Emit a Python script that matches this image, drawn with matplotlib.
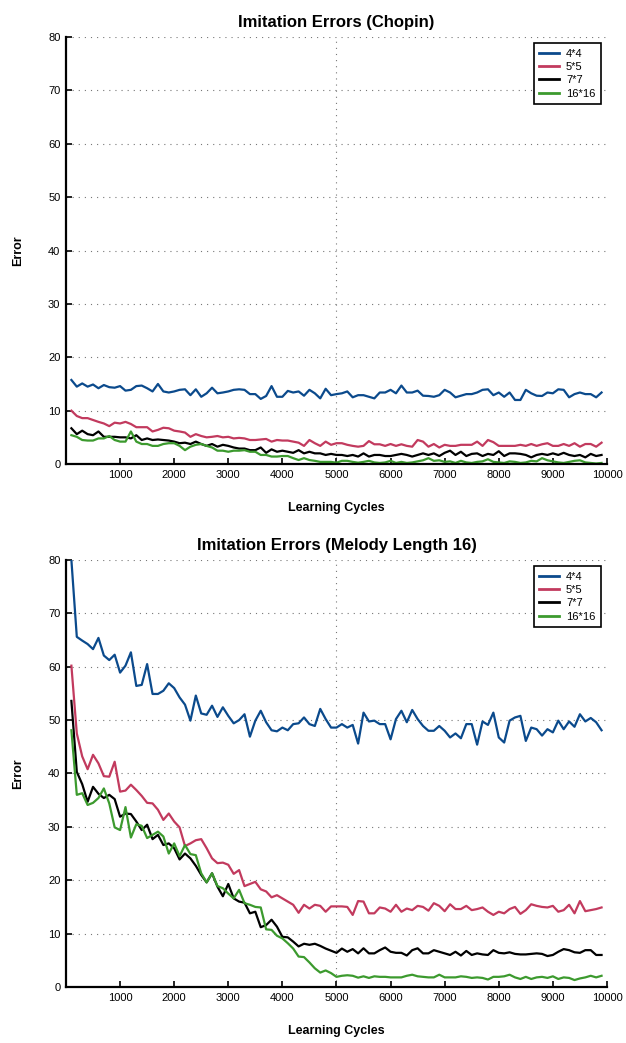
import numpy as np
import matplotlib.pyplot as plt

plt.rcParams['font.family'] = ['Liberation Sans', 'DejaVu Sans']

# learning cycles: one sample every 100 cycles
cycles = np.arange(100, 10000, 100)
labels = ['4*4', '5*5', '7*7', '16*16']
colors = ['#0b4a8c', '#c23a5e', '#000000', '#3c9a2e']

# --- Chopin ---
chopin_4 = [15.75, 14.5, 15.1, 14.5, 14.9, 14.2, 14.8, 14.4, 14.3, 14.6,
            13.75, 13.9, 14.6, 14.7, 14.2, 13.6, 15.0, 13.6, 13.4, 13.6,
            13.9, 14.0, 12.9, 14.0, 12.6, 13.25, 14.3, 13.25, 13.4, 13.6,
            13.9, 14.0, 13.9, 13.1, 13.1, 12.2, 12.75, 14.6, 12.6, 12.6,
            13.7, 13.4, 13.6, 12.8, 13.9, 13.25, 12.3, 14.1, 12.9, 13.1,
            13.25, 13.6, 12.5, 12.9, 12.9, 12.6, 12.3, 13.4, 13.4, 13.9,
            13.25, 14.7, 13.4, 13.4, 13.75, 12.8, 12.75, 12.6, 12.9, 13.9,
            13.4, 12.5, 12.8, 13.1, 13.1, 13.4, 13.9, 14.0, 12.9, 13.4,
            12.6, 13.4, 12.0, 12.0, 13.9, 13.25, 12.8, 12.75, 13.4, 13.25,
            14.0, 13.9, 12.5, 13.1, 13.4, 13.1, 13.1, 12.5, 13.4]
chopin_5 = [10.0, 9.0, 8.6, 8.6, 8.25, 7.9, 7.6, 7.1, 7.75, 7.6,
            7.9, 7.5, 6.9, 6.9, 6.9, 6.1, 6.4, 6.8, 6.7, 6.25,
            6.1, 5.9, 5.1, 5.6, 5.25, 5.0, 5.1, 5.25, 5.0, 5.1,
            4.8, 4.9, 4.8, 4.5, 4.5, 4.6, 4.7, 4.2, 4.5, 4.4,
            4.4, 4.2, 4.0, 3.4, 4.5, 3.9, 3.4, 4.2, 3.6, 3.9,
            3.9, 3.6, 3.4, 3.25, 3.4, 4.3, 3.7, 3.7, 3.4, 3.75,
            3.4, 3.7, 3.4, 3.25, 4.5, 4.2, 3.25, 3.75, 3.1, 3.6,
            3.4, 3.4, 3.6, 3.6, 3.6, 4.2, 3.4, 4.5, 4.1, 3.4,
            3.4, 3.4, 3.4, 3.6, 3.4, 3.75, 3.4, 3.7, 3.9, 3.4,
            3.4, 3.75, 3.4, 3.9, 3.25, 3.75, 3.75, 3.25, 4.0]
chopin_7 = [6.7, 5.6, 6.25, 5.6, 5.4, 6.1, 5.1, 5.1, 5.1, 5.0,
            5.0, 4.8, 5.4, 4.5, 4.8, 4.5, 4.6, 4.5, 4.4, 4.2,
            3.9, 4.0, 3.75, 4.2, 3.75, 3.4, 3.75, 3.25, 3.6, 3.4,
            3.1, 2.9, 2.9, 2.6, 2.6, 3.1, 2.1, 2.75, 2.3, 2.5,
            2.3, 2.1, 2.6, 2.0, 2.3, 2.0, 2.0, 1.7, 1.9, 1.7,
            1.7, 1.5, 1.7, 1.4, 2.0, 1.4, 1.7, 1.7, 1.5, 1.5,
            1.7, 1.9, 1.7, 1.4, 1.7, 2.0, 1.7, 2.0, 1.5, 2.1,
            2.5, 1.7, 2.3, 1.5, 1.9, 2.0, 1.5, 1.9, 1.7, 2.4,
            1.5, 2.0, 2.0, 1.9, 1.7, 1.25, 1.7, 1.9, 1.7, 2.0,
            1.7, 2.1, 1.7, 1.5, 1.7, 1.25, 1.9, 1.5, 1.7]
chopin_16 = [5.4, 5.1, 4.5, 4.4, 4.4, 4.8, 4.8, 5.25, 4.5, 4.2,
             4.2, 6.1, 4.2, 3.75, 3.75, 3.4, 3.4, 3.75, 3.9, 3.9,
             3.4, 2.6, 3.25, 3.6, 3.75, 3.4, 3.1, 2.5, 2.5, 2.3,
             2.5, 2.5, 2.6, 2.3, 2.3, 1.7, 1.7, 1.4, 1.4, 1.5,
             1.5, 1.1, 0.75, 1.1, 0.75, 0.6, 0.4, 0.4, 0.4, 0.25,
             0.6, 0.6, 0.4, 0.25, 0.4, 0.6, 0.3, 0.2, 0.3, 0.6,
             0.2, 0.4, 0.2, 0.3, 0.5, 0.7, 1.1, 0.6, 0.7, 0.4,
             0.5, 0.2, 0.6, 0.3, 0.2, 0.4, 0.5, 0.9, 0.4, 0.3,
             0.2, 0.5, 0.4, 0.2, 0.3, 0.6, 0.5, 1.1, 0.7, 0.5,
             0.3, 0.2, 0.4, 0.6, 0.7, 0.3, 0.2, 0.1, 0.2]

# --- Melody length 16 ---
melody_4 = [80.0, 65.6, 64.9, 64.25, 63.3, 65.4, 62.1, 61.25, 62.25, 58.9,
            60.2, 62.7, 56.4, 56.6, 60.5, 54.9, 54.9, 55.5, 56.9, 56.0,
            54.25, 52.9, 49.9, 54.6, 51.25, 51.0, 52.7, 50.6, 52.4, 50.8,
            49.4, 50.0, 51.1, 46.9, 49.9, 51.75, 49.6, 48.1, 47.9, 48.6,
            48.1, 49.25, 49.4, 50.5, 49.25, 48.9, 52.1, 50.2, 48.6, 48.6,
            49.25, 48.6, 49.1, 45.6, 51.4, 49.75, 49.9, 49.25, 49.25, 46.4,
            50.2, 51.75, 49.6, 51.9, 50.2, 48.9, 48.0, 48.0, 48.9, 48.0,
            46.75, 47.5, 46.6, 49.25, 49.25, 45.4, 49.75, 49.1, 51.4, 46.75,
            45.8, 49.9, 50.5, 50.8, 46.1, 48.6, 48.3, 47.1, 48.3, 47.7,
            49.9, 48.3, 49.75, 48.75, 51.1, 49.75, 50.4, 49.6, 48.1]
melody_5 = [60.2, 47.5, 43.2, 40.8, 43.5, 41.9, 39.5, 39.4, 42.2, 36.6,
            36.8, 37.9, 36.9, 35.8, 34.5, 34.4, 33.2, 31.3, 32.5, 31.0,
            29.9, 26.4, 26.9, 27.5, 27.7, 26.0, 24.1, 23.2, 23.3, 22.9,
            21.2, 21.9, 18.9, 19.3, 19.7, 18.3, 17.9, 16.8, 17.2, 16.6,
            16.0, 15.4, 13.9, 15.4, 14.7, 15.4, 15.2, 14.1, 15.1, 15.1,
            15.1, 15.0, 13.5, 16.1, 16.0, 13.8, 13.8, 14.9, 14.7, 14.1,
            15.4, 14.1, 14.7, 14.4, 15.2, 15.0, 14.3, 15.7, 15.2, 14.2,
            15.5, 14.6, 14.6, 15.2, 14.4, 14.6, 14.9, 14.1, 13.5, 14.1,
            13.8, 14.6, 15.0, 13.7, 14.4, 15.5, 15.2, 15.0, 14.9, 15.2,
            14.1, 14.4, 15.4, 13.8, 16.1, 14.2, 14.4, 14.6, 14.9]
melody_7 = [53.6, 40.3, 38.0, 34.7, 37.5, 36.2, 35.4, 36.0, 35.2, 31.9,
            32.5, 32.4, 31.0, 29.4, 30.4, 27.7, 28.5, 26.6, 26.9, 26.0,
            23.9, 25.0, 24.1, 22.7, 21.0, 19.6, 21.3, 18.8, 17.0, 19.3,
            16.6, 16.0, 15.8, 13.8, 14.1, 11.2, 11.6, 12.6, 11.3, 9.4,
            9.3, 8.5, 7.6, 8.1, 7.9, 8.1, 7.7, 7.2, 6.8, 6.4,
            7.2, 6.6, 7.1, 6.3, 7.25, 6.3, 6.3, 6.9, 7.4, 6.6,
            6.4, 6.4, 5.9, 6.9, 7.25, 6.3, 6.3, 6.9, 6.6, 6.3,
            6.0, 6.6, 5.9, 6.75, 6.0, 6.3, 6.1, 6.0, 6.9, 6.4,
            6.3, 6.5, 6.2, 6.1, 6.1, 6.2, 6.3, 6.2, 5.8, 6.0,
            6.6, 7.1, 6.9, 6.5, 6.4, 6.9, 6.9, 6.0, 6.0]
melody_16 = [48.1, 36.0, 36.3, 34.1, 34.5, 35.4, 37.2, 34.4, 29.9, 29.4,
             33.7, 28.0, 30.5, 30.2, 27.9, 28.5, 29.1, 28.2, 25.0, 26.9,
             24.5, 26.6, 24.9, 24.7, 21.3, 19.6, 21.3, 18.9, 18.5, 17.5,
             16.6, 18.2, 15.7, 15.4, 15.0, 14.9, 10.8, 10.7, 9.6, 9.1,
             8.2, 7.2, 5.7, 5.6, 4.6, 3.5, 2.7, 3.1, 2.6, 1.9,
             2.1, 2.2, 2.1, 1.75, 2.0, 1.7, 2.0, 1.9, 1.9, 1.8,
             1.8, 1.8, 2.1, 2.3, 2.0, 1.9, 1.8, 1.8, 2.3, 1.8,
             1.8, 1.8, 2.0, 1.9, 1.7, 1.8, 1.7, 1.4, 1.9, 1.9,
             2.0, 2.3, 1.8, 1.5, 1.9, 1.5, 1.8, 1.9, 1.7, 2.0,
             1.5, 1.8, 1.7, 1.3, 1.6, 1.8, 2.1, 1.8, 2.1]

panels = [
    ('Imitation Errors (Chopin)', [chopin_4, chopin_5, chopin_7, chopin_16]),
    ('Imitation Errors (Melody Length 16)', [melody_4, melody_5, melody_7, melody_16]),
]

fig = plt.figure(figsize=(6.26, 10.43), dpi=100)
boxes = [[0.1054, 0.5551, 0.8642, 0.4094], [0.1054, 0.0537, 0.8642, 0.4094]]
dots = (0, (1, 4.5))

for box, (title, series) in zip(boxes, panels):
    ax = fig.add_axes(box)
    for vals, lab, col in zip(series, labels, colors):
        ax.plot(cycles, vals, color=col, lw=1.6, label=lab)

    ax.set_xlim(0, 10000)
    ax.set_ylim(0, 80)
    ax.set_xticks(np.arange(1000, 10001, 1000))
    ax.set_yticks(np.arange(0, 81, 10))
    ax.tick_params(direction='in', length=4, width=1.2, labelsize=8, pad=4)

    # dotted horizontal grid plus a single vertical guide at the midpoint
    ax.yaxis.grid(True, linestyle=dots, color='#777777', lw=0.8)
    ax.axvline(5000, linestyle=dots, color='#777777', lw=0.8, zorder=0)
    ax.set_axisbelow(True)

    for side in ['top', 'right']:
        ax.spines[side].set_visible(False)
    for side in ['left', 'bottom']:
        ax.spines[side].set_linewidth(1.6)

    ax.set_title(title, fontsize=12, fontweight='bold', pad=7.5)
    ax.set_xlabel('Learning Cycles', fontsize=9, fontweight='bold', labelpad=16)
    ax.set_ylabel('Error', fontsize=9, fontweight='bold', labelpad=17)

    leg = ax.legend(loc='upper right', fontsize=8, handlelength=1.8,
                    labelspacing=0.3, borderpad=0.5, handletextpad=0.6,
                    fancybox=False, framealpha=1, borderaxespad=0.55)
    leg.get_frame().set_edgecolor('black')
    leg.get_frame().set_linewidth(1.2)
    for line in leg.get_lines():
        line.set_linewidth(2)

fig.savefig('out.png', dpi=100)
